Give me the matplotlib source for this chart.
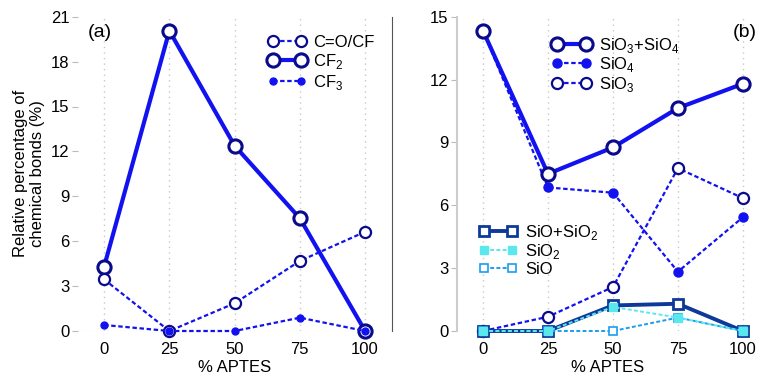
import numpy as np
import matplotlib
matplotlib.use('Agg')
import matplotlib.pyplot as plt

plt.rcParams['font.family'] = ['Liberation Sans', 'DejaVu Sans']
plt.rcParams['mathtext.fontset'] = 'custom'
plt.rcParams['mathtext.rm'] = 'Liberation Sans'

# data
aptes = [0, 25, 50, 75, 100]

co_cf = [3.45, 0.0, 1.85, 4.68, 6.63]
cf2 = [4.3, 20.06, 12.38, 7.53, 0.0]
cf3 = [0.4, 0.0, 0.0, 0.89, 0.0]

sio3_sio4 = [14.33, 7.5, 8.76, 10.64, 11.8]
sio4 = [14.33, 6.85, 6.6, 2.83, 5.43]
sio3 = [0.0, 0.68, 2.1, 7.77, 6.34]
sio_sio2 = [0.0, 0.0, 1.22, 1.3, 0.0]
sio2 = [0.0, 0.0, 1.15, 0.64, 0.0]
sio = [0.0, 0.0, 0.0, 0.64, 0.0]

yticks_a = [0, 3, 6, 9, 12, 15, 18, 21]
yticks_b = [0, 3, 6, 9, 12, 15]

blue = '#1212f0'
navy = '#0a0a8c'
dark = '#0d3a99'
cyan = '#5ae8ee'
light = '#1a9cf0'
dash = (0, (2, 1.2))

W, H = 758, 383
fig = plt.figure(figsize=(W / 100, H / 100), dpi=100)


def px_axes(x0, y0, x1, y1):
    return fig.add_axes([x0 / W, 1 - y1 / H, (x1 - x0) / W, (y1 - y0) / H])


def style(ax, yticks, ymax, xmax):
    ax.set_xlim(-10, xmax)
    ax.set_ylim(0, ymax)
    ax.set_xticks(aptes)
    ax.set_yticks(yticks)
    ax.tick_params(axis='x', length=0, labelsize=12, pad=8)
    ax.tick_params(axis='y', length=4, color='#bbbbbb', labelsize=12, pad=2)
    for x in aptes:
        ax.axvline(x, color='#c8c8c8', lw=1, ls=(0, (1, 3)), zorder=0)
    ax.set_xlabel('% APTES', fontsize=12, labelpad=2)
    for s in ['top', 'bottom', 'left', 'right']:
        ax.spines[s].set_visible(False)


# ---- panel (a)
ax1 = px_axes(78, 16.7, 392, 331)
style(ax1, yticks_a, 21, 110.3)
ax1.spines['right'].set_visible(True)
ax1.spines['right'].set_color('#555555')
ax1.spines['right'].set_linewidth(0.8)
ax1.axhline(0, color='#e0e0e0', lw=1, ls=(0, (1, 2)), zorder=0)

ax1.plot(aptes, co_cf, ls=dash, lw=1.6, color=blue, marker='o', ms=8,
         mfc='white', mec=navy, mew=1.6, clip_on=False, label='C=O/CF', zorder=3)
ax1.plot(aptes, cf2, ls='-', lw=3, color=blue, marker='o', ms=9.5,
         mfc='white', mec=navy, mew=2.2, clip_on=False, label='CF$_2$', zorder=2)
ax1.plot(aptes, cf3, ls=dash, lw=1.6, color=blue, marker='o', ms=5,
         mfc=blue, mec=blue, clip_on=False, label='CF$_3$', zorder=4)
ax1.set_ylabel('Relative percentage of\nchemical bonds (%)', fontsize=12, labelpad=4)
ax1.text(0.032, 0.935, '(a)', transform=ax1.transAxes, fontsize=14)
ax1.legend(loc='upper right', bbox_to_anchor=(0.975, 0.975), frameon=False,
           numpoints=2, handlelength=2.3, fontsize=12, labelspacing=0.12,
           handletextpad=0.4, borderaxespad=0.2)

# ---- panel (b)
ax2 = px_axes(457, 16.7, 758, 331)
style(ax2, yticks_b, 15, 105.8)
ax2.spines['left'].set_visible(True)
ax2.spines['left'].set_color('#cccccc')
ax2.spines['left'].set_linewidth(1.5)

l1, = ax2.plot(aptes, sio3_sio4, ls='-', lw=3, color=blue, marker='o', ms=9.5,
               mfc='white', mec=navy, mew=2.2, clip_on=False, label='SiO$_3$+SiO$_4$', zorder=5)
l2, = ax2.plot(aptes, sio4, ls=dash, lw=1.6, color=blue, marker='o', ms=6.5,
               mfc=blue, mec=blue, clip_on=False, label='SiO$_4$', zorder=4)
l3, = ax2.plot(aptes, sio3, ls=dash, lw=1.6, color=blue, marker='o', ms=8,
               mfc='white', mec=navy, mew=1.6, clip_on=False, label='SiO$_3$', zorder=4)
l4, = ax2.plot(aptes, sio_sio2, ls='-', lw=2.8, color=dark, marker='s', ms=7,
               mfc='white', mec=dark, mew=2, clip_on=False, label='SiO+SiO$_2$', zorder=5)
l5, = ax2.plot(aptes, sio2, ls=dash, lw=1.4, color=cyan, marker='s', ms=6,
               mfc=cyan, mec=cyan, clip_on=False, label='SiO$_2$', zorder=6)
l6, = ax2.plot(aptes, sio, ls=dash, lw=1.4, color=light, marker='s', ms=5.5,
               mfc='white', mec=light, mew=1.2, clip_on=False, label='SiO', zorder=5)
ax2.text(0.915, 0.935, '(b)', transform=ax2.transAxes, fontsize=14)

leg1 = ax2.legend(handles=[l1, l2, l3], loc='upper left', bbox_to_anchor=(0.295, 0.96),
                  frameon=False, numpoints=2, handlelength=2.3, fontsize=12,
                  labelspacing=0.02, handletextpad=0.5, borderaxespad=0)
ax2.add_artist(leg1)
ax2.legend(handles=[l4, l5, l6], loc='upper left', bbox_to_anchor=(0.05, 0.365),
           frameon=False, numpoints=2, handlelength=2.3, fontsize=12,
           labelspacing=0.02, handletextpad=0.5, borderaxespad=0)

fig.savefig('out.png', dpi=100)
